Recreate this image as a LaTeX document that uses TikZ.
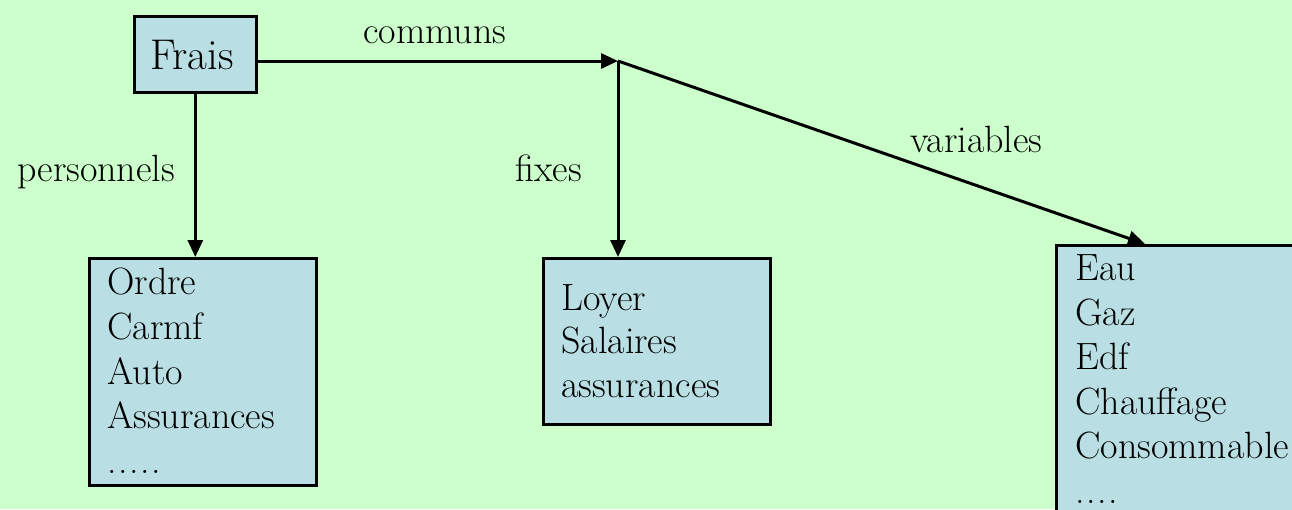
\documentclass[tikz,border=0pt]{standalone}
\usetikzlibrary{arrows.meta}
\definecolor{bggreen}{RGB}{204,255,204}
\definecolor{boxblue}{RGB}{185,223,228}
\newcommand\dotgap{\kern1.6pt}
\tikzset{
  box/.style={draw=black, line width=2.6pt, fill=boxblue, rectangle, anchor=north west, inner sep=0pt},
  txt/.style={anchor=base west, inner sep=0pt, font=\fontsize{38}{44}\selectfont},
  link/.style={line width=3pt, -{Triangle[length=17pt,width=15pt]}}
}
\begin{document}
\begin{tikzpicture}[x=1pt, y=-1pt]
  \fill[bggreen] (0,0) rectangle (1292,509);
  \useasboundingbox (0,0) rectangle (1292,509);
  \clip (0,0) rectangle (1292,509);

  % top box
  \node[box, minimum width=122pt, minimum height=76pt] (frais) at (133,15) {};
  \node[anchor=base west, inner sep=0pt, font=\fontsize{43}{50}\selectfont] (fraistxt) at (150,69) {Frais};

  % the three lists
  \node[box, minimum width=227pt, minimum height=227pt] (perso) at (88,257) {};
  \node[box, minimum width=227pt, minimum height=166pt] (fixe) at (542,257) {};
  \node[box, minimum width=260pt, minimum height=290pt] (var) at (1055,244) {};

  \node[txt] (p1) at (107,294) {Ordre};
  \node[txt] (p2) at (107,339) {Carmf};
  \node[txt] (p3) at (107,384) {Auto};
  \node[txt] (p4) at (107,428) {Assurances};
  \node[txt] (p5) at (107,473) {.\dotgap.\dotgap.\dotgap.\dotgap.};

  \node[txt] (f1) at (561,310) {Loyer};
  \node[txt] (f2) at (561,353) {Salaires};
  \node[txt] (f3) at (561,397) {assurances};

  \node[txt] (v1) at (1075,280) {Eau};
  \node[txt] (v2) at (1075,325) {Gaz};
  \node[txt] (v3) at (1075,369) {Edf};
  \node[txt] (v4) at (1075,414) {Chauffage};
  \node[txt] (v5) at (1075,458) {Consommable};
  \node[txt] (v6) at (1075,503) {.\dotgap.\dotgap.\dotgap.};

  % branch point and arrow end on the last list
  \coordinate (split) at (618,61);
  \coordinate (vtip) at (1145,244);

  % connectors
  \draw[link] (frais.east |- split) -- (split);
  \draw[link] (frais.south) -- (frais.south |- perso.north);
  \draw[link] (split) -- (split |- fixe.north);
  \draw[link] (split) -- (vtip);

  % connector labels
  \node[txt] (lcommuns) at (363,43) {communs};
  \node[txt] (lperso) at (17,181) {personnels};
  \node[txt] (lfixes) at (515,181) {fixes};
  \node[txt] (lvar) at (910,152) {variables};
\end{tikzpicture}
\end{document}
